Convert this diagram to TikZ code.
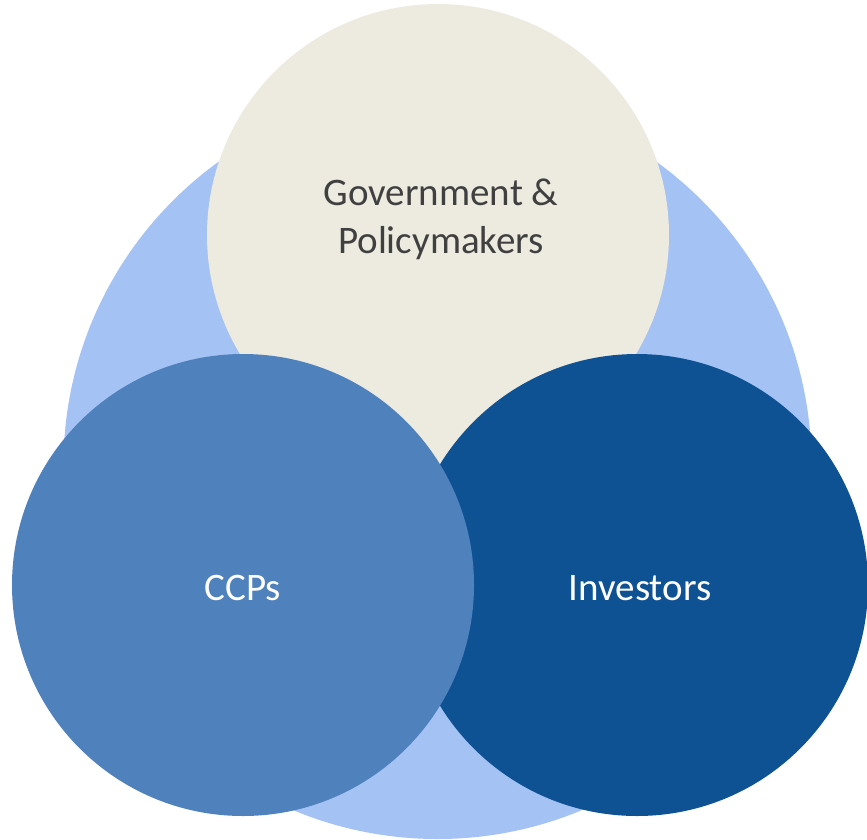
\documentclass[tikz,border=0pt]{standalone}
\usepackage{fontspec}
\setmainfont{Carlito}
\definecolor{ringblue}{HTML}{A4C2F4}
\definecolor{govbeige}{HTML}{EDEBE0}
\definecolor{ccpblue}{HTML}{4F81BD}
\definecolor{invblue}{HTML}{0F5294}
\definecolor{labelgray}{HTML}{404040}
\begin{document}
\begin{tikzpicture}[x=1pt, y=-1pt,
    disc/.style={circle, inner sep=0pt, minimum size=462pt},
    bigtext/.style={font=\fontsize{39}{48}\selectfont, align=center}]
    \useasboundingbox (0,0) rectangle (867,839);

    % --- Outer ring behind everything ---
    \fill[ringblue] (437.5,465) circle (374);

    % --- The three stakeholder discs ---
    \node[disc, fill=govbeige] (gov) at (438,235) {};
    \node[disc, fill=invblue]  (inv) at (637,585) {};
    \node[disc, fill=ccpblue]  (ccp) at (243,585) {};

    % --- Labels ---
    \node[bigtext, labelgray] (govtext) at (441,219) {Government \&\\Policymakers};
    \node[bigtext, white, anchor=base] (ccptext) at (243,600) {CCPs};
    \node[bigtext, white, anchor=base] (invtext) at (640,600) {Investors};
\end{tikzpicture}
\end{document}
